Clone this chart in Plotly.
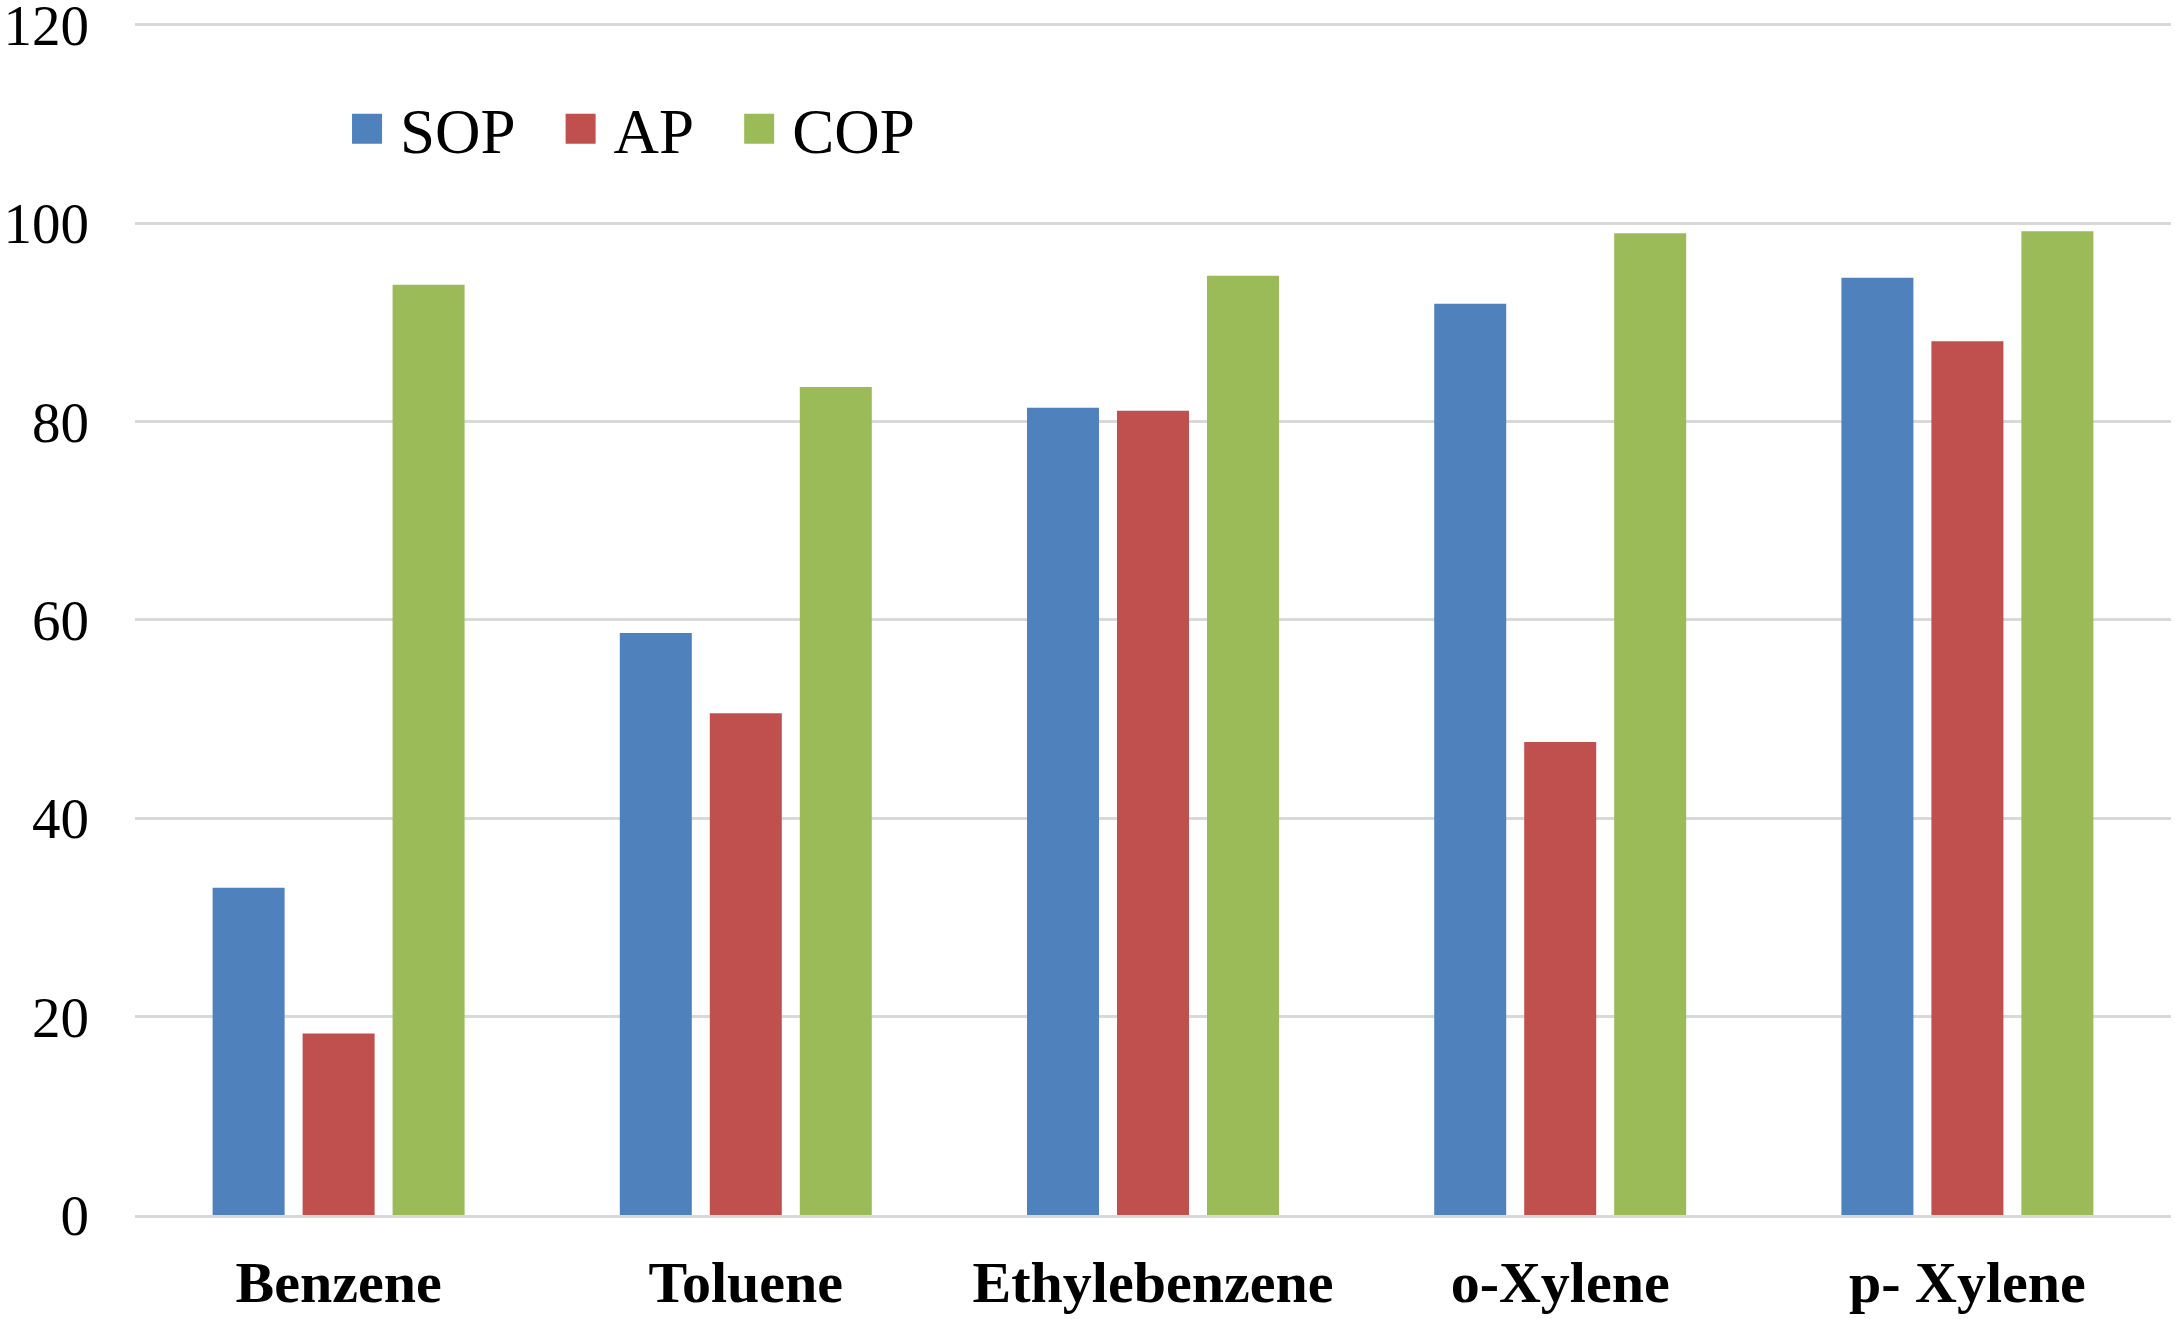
import plotly.graph_objects as go

categories = ["Benzene", "Toluene", "Ethylebenzene", "o-Xylene", "p- Xylene"]
sop = [33.0, 58.7, 81.4, 91.9, 94.5]
ap = [18.3, 50.6, 81.1, 47.7, 88.1]
cop = [93.8, 83.5, 94.7, 99.0, 99.2]
series_names = ["SOP", "AP", "COP"]
colors = ["#4F81BD", "#C0504D", "#9BBB59"]
y_ticks = [0, 20, 40, 60, 80, 100, 120]

FONT = "Liberation Serif, Times New Roman, serif"

fig = go.Figure()
for name, vals, col in zip(series_names, [sop, ap, cop], colors):
    fig.add_trace(go.Bar(x=categories, y=vals, name=name,
                         marker=dict(color=col, line=dict(width=0))))

fig.update_layout(
    width=2175, height=1319,
    margin=dict(l=135, r=4, t=22, b=104, autoexpand=False),
    paper_bgcolor="white", plot_bgcolor="white",
    barmode="group", bargap=0.337, bargroupgap=0.2,
    font=dict(family=FONT, color="black"),
    showlegend=True,
    legend=dict(orientation="h", x=0.0845, y=0.9105, xanchor="left", yanchor="middle",
                font=dict(size=63, family=FONT, color="black"),
                itemwidth=83,
                bgcolor="rgba(0,0,0,0)"),
)
fig.update_yaxes(range=[0, 120.3], tickvals=y_ticks, ticktext=[str(v) for v in y_ticks],
                 showgrid=True, gridcolor="#D9D9D9", gridwidth=3,
                 zeroline=False, showline=False, automargin=False,
                 tickfont=dict(size=57, family=FONT, color="black"),
                 ticks="", ticklabelstandoff=45, ticklabeloverflow="allow")
fig.update_xaxes(showgrid=False, showline=True, linecolor="#D9D9D9", linewidth=3,
                 automargin=False,
                 tickfont=dict(size=58, family=FONT, color="black", weight="bold"),
                 ticks="", ticklabelstandoff=14, ticklabeloverflow="allow")

post = """
var gd = document.getElementById('{plot_id}');
document.body.style.margin = '0';
function fixLegend(){
  document.querySelectorAll('g.legendpoints path').forEach(function(p){
    p.setAttribute('d','M28.5,15H-1.5V-15H28.5Z');
  });
}
fixLegend();
if (gd && gd.on) { gd.on('plotly_afterplot', fixLegend); }
"""
fig.write_html("out.html", post_script=post, config={"displayModeBar": False})
